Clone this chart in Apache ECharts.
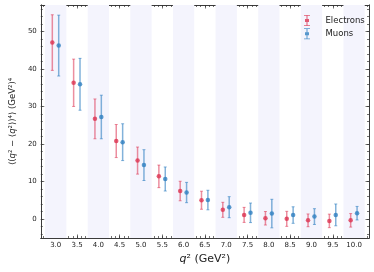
<!DOCTYPE html>
<html><head><meta charset="utf-8">
<script src="https://cdn.jsdelivr.net/npm/echarts@6/dist/echarts.min.js"></script>
<style>html,body{margin:0;padding:0;background:#fff}#c{width:374px;height:272px}</style>
</head><body><div id="c"></div>
<script>
const q = [3.0,3.5,4.0,4.5,5.0,5.5,6.0,6.5,7.0,7.5,8.0,8.5,9.0,9.5,10.0];
const eVal = [47.0,36.3,26.7,20.8,15.6,11.4,7.5,5.05,2.5,1.15,0.25,0.1,-0.3,-0.45,-0.3];
const eErr = [7.4,6.3,5.3,4.4,3.6,3.0,2.6,2.4,2.0,2.0,1.8,2.0,1.7,1.8,1.8];
const mVal = [46.2,35.9,27.2,20.5,14.4,10.7,7.1,5.1,3.2,1.7,1.5,1.1,0.7,1.15,1.6];
const mErr = [8.1,6.9,5.8,4.9,4.1,3.2,2.7,2.6,2.8,2.6,3.8,2.2,2.1,2.9,1.8];
const eShift = -0.08, mShift = 0.07;
const bandCenters = [3,4,5,6,7,8,9,10];
const bandHalf = 0.25;
const xTicks = [3.0,3.5,4.0,4.5,5.0,5.5,6.0,6.5,7.0,7.5,8.0,8.5,9.0,9.5,10.0];
const yTicks = [0,10,20,30,40,50];
const xMinor = []; for (let v = 27; v <= 103; v++) xMinor.push(v/10);
const yMinor = []; for (let v = -4; v <= 56; v += 2) yMinor.push(v);

const red = '#dc3250', redBar = 'rgba(220,50,80,0.55)';
const blue = '#2f7fc1', blueBar = 'rgba(47,127,193,0.6)';

function errData(val, err, shift){ return q.map((x,i)=>[x+shift, val[i]-err[i], val[i]+err[i]]); }
function ptData(val, shift){ return q.map((x,i)=>[x+shift, val[i]]); }
function errRender(color){
  return function(params, api){
    const x = api.value(0), lo = api.value(1), hi = api.value(2);
    const a = api.coord([x, lo]), b = api.coord([x, hi]);
    const st = {stroke: color, lineWidth: 1.5};
    return {type:'group', children:[
      {type:'line', shape:{x1:a[0],y1:a[1],x2:b[0],y2:b[1]}, style:st},
      {type:'line', shape:{x1:a[0]-1.5,y1:a[1],x2:a[0]+1.5,y2:a[1]}, style:{stroke:color,lineWidth:1}},
      {type:'line', shape:{x1:b[0]-1.5,y1:b[1],x2:b[0]+1.5,y2:b[1]}, style:{stroke:color,lineWidth:1}}
    ]};
  };
}
const font = 'DejaVu Sans';
const axisCol = '#333';
function xAx(pos, labels, ticks, len){
  return {type:'value', min:2.65, max:10.35, position:pos,
    axisLine:{show:true, onZero:false, lineStyle:{color:axisCol, width:0.8}},
    axisTick:{show:true, inside:true, length:len, customValues:ticks, lineStyle:{color:axisCol, width:0.7}},
    axisLabel:{show:labels, customValues:xTicks, margin:4, fontSize:7, fontFamily:font, color:'#222', formatter:v=>v.toFixed(1)},
    splitLine:{show:false}};
}
function yAx(pos, labels, ticks, len){
  return {type:'value', min:-5, max:57, position:pos,
    axisLine:{show:true, onZero:false, lineStyle:{color:axisCol, width:0.8}},
    axisTick:{show:true, inside:true, length:len, customValues:ticks, lineStyle:{color:axisCol, width:0.7}},
    axisLabel:{show:labels, customValues:yTicks, margin:4, fontSize:7, fontFamily:font, color:'#222'},
    splitLine:{show:false}};
}
const xA = [xAx('bottom', true, xTicks, 3.5), xAx('bottom', false, xMinor, 2), xAx('top', false, xTicks, 3.5), xAx('top', false, xMinor, 2)];
xA[0].name = '{i|q}² (GeV²)';
xA[0].nameLocation = 'middle';
xA[0].nameGap = 15;
xA[0].nameTextStyle = {fontSize:11, fontFamily:font, color:'#222', rich:{i:{fontStyle:'italic', fontSize:11, fontFamily:font, color:'#222'}}};
const yA = [yAx('left', true, yTicks, 3.5), yAx('left', false, yMinor, 2), yAx('right', false, yTicks, 3.5), yAx('right', false, yMinor, 2)];
yA[0].name = '⟨({i|q}² − ⟨{i|q}²⟩)⁴⟩ (GeV²)⁴';
yA[0].nameLocation = 'middle';
yA[0].nameRotate = 90;
yA[0].nameGap = 21;
yA[0].nameTextStyle = {fontSize:8.5, fontFamily:font, color:'#222', rich:{i:{fontStyle:'italic', fontSize:8.5, fontFamily:font, color:'#222'}}};

const iconPath = 'path://M0,0H6V0.8H3.5V4H5V7H3.5V10.2H6V11H0V10.2H2.5V7H1V4H2.5V0.8H0Z';

const option = {
  animation:false,
  grid:{left:33, right:5, top:5, bottom:34},
  xAxis: xA,
  yAxis: yA,
  legend:{left:299, top:10, orient:'vertical', itemGap:2.3, itemWidth:7, itemHeight:11,
    textStyle:{fontSize:8.5, fontFamily:font, color:'#222', padding:[0,0,0,10]},
    data:[{name:'Electrons', icon:iconPath},{name:'Muons', icon:iconPath}]},
  series:[
    {type:'custom', name:'bands', silent:true, data:[], renderItem:()=>null,
      markArea:{silent:true, itemStyle:{color:'#f4f4fd'},
        data: bandCenters.map(c=>[{xAxis:c-bandHalf, yAxis:-5},{xAxis:c+bandHalf, yAxis:57}])}},
    {type:'custom', name:'eErr', data:errData(eVal,eErr,eShift), renderItem:errRender(redBar), z:3},
    {type:'custom', name:'mErr', data:errData(mVal,mErr,mShift), renderItem:errRender(blueBar), z:3},
    {type:'scatter', name:'Electrons', data:ptData(eVal,eShift), symbol:'circle', symbolSize:4.5, itemStyle:{color:red}, z:4},
    {type:'scatter', name:'Muons', data:ptData(mVal,mShift), symbol:'circle', symbolSize:4.5, itemStyle:{color:blue}, z:4}
  ]
};
echarts.init(document.getElementById('c'), null, {renderer:'canvas'}).setOption(option);
</script></body></html>
